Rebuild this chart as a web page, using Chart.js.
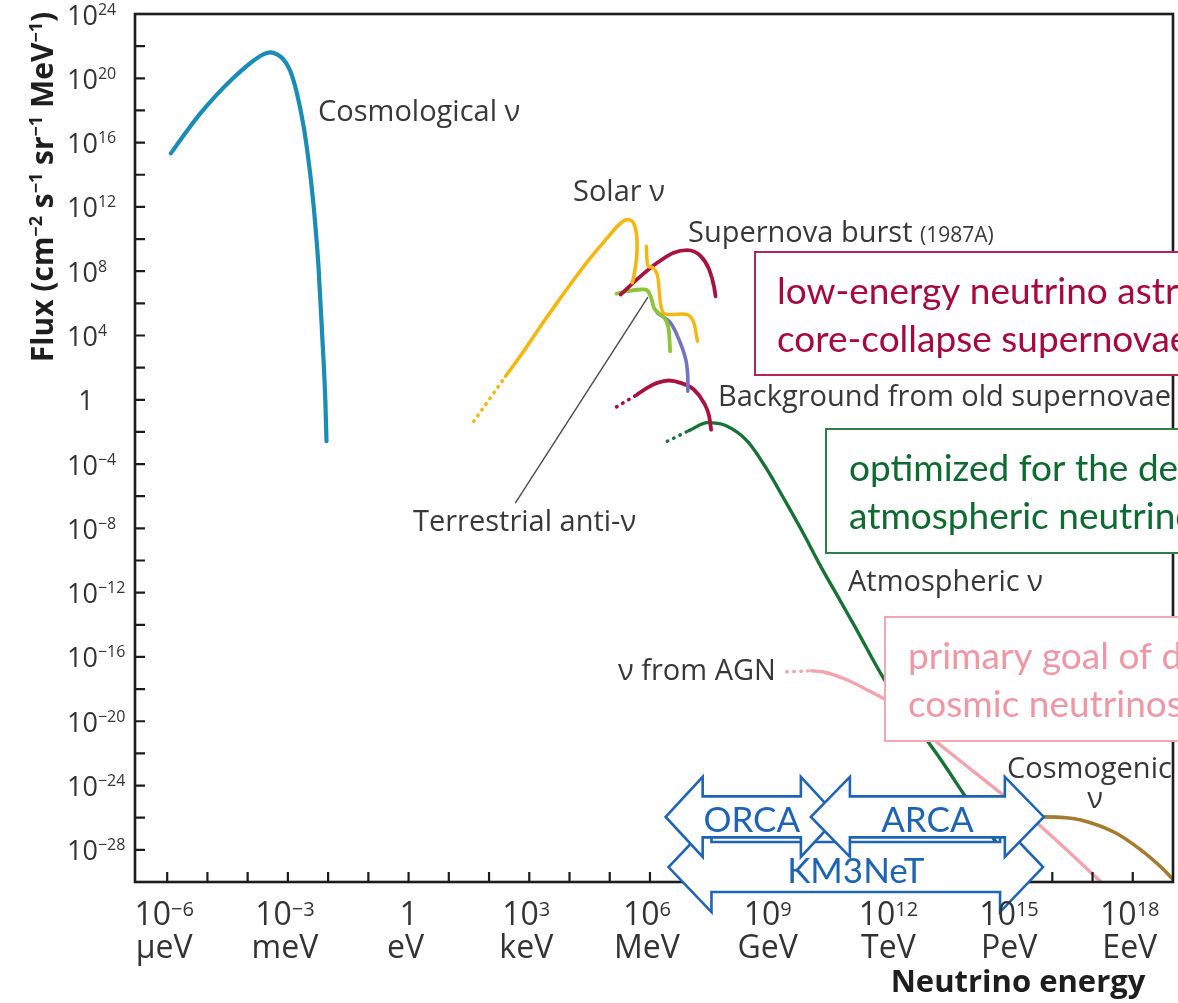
<!DOCTYPE html>
<html lang="en">
<head>
<meta charset="utf-8">
<title>Neutrino flux spectrum</title>
<script src="https://cdn.jsdelivr.net/npm/chart.js@4.4.1/dist/chart.umd.min.js"></script>
<style>
  html, body { margin: 0; padding: 0; background: #ffffff; }
  #frame { position: relative; width: 1178px; height: 1003px; }
</style>
</head>
<body>
<div id="frame"><canvas id="flux"></canvas></div>
<script>
// Axis ranges in decades: energy as log10(E / eV), flux as log10(cm^-2 s^-1 sr^-1 MeV^-1)
const energyRangeExp = [-6.8, 19];
const fluxRangeExp = [-30, 24];

// Tick marks and labels
const energyTickExps = [-6,-5,-4,-3,-2,-1,0,1,2,3,4,5,6,7,8,9,10,11,12,13,14,15,16,17,18];
const energyLabelExps = [-6, -3, 0, 3, 6, 9, 12, 15, 18];
const energyLabelUnits = ['µeV', 'meV', 'eV', 'keV', 'MeV', 'GeV', 'TeV', 'PeV', 'EeV'];
const fluxTickExps = [24,22,20,18,16,14,12,10,8,6,4,2,0,-2,-4,-6,-8,-10,-12,-14,-16,-18,-20,-22,-24,-26,-28];
const fluxLabelExps = [24, 20, 16, 12, 8, 4, 0, -4, -8, -12, -16, -20, -24, -28];

// Spectra (log10 E, log10 flux)
const cosmoLogE = [-5.91, -5.51, -5.18, -4.76, -4.35, -3.93, -3.60, -3.44, -3.27, -3.11, -2.94, -2.78, -2.61, -2.49, -2.36, -2.24, -2.15, -2.07, -2.04];
const cosmoLogF = [15.33, 16.72, 17.80, 19.00, 20.03, 20.95, 21.50, 21.61, 21.49, 21.18, 20.45, 19.11, 17.03, 14.96, 12.05, 8.31, 4.16, 0.01, -2.58];

const solarTailLogE = [1.62, 2.41];
const solarTailLogF = [-1.34, 1.46];
const solarLogE = [2.41, 2.86, 3.28, 3.69, 4.11, 4.52, 4.94, 5.23, 5.44, 5.59, 5.67, 5.67, 5.60, 5.56];
const solarLogF = [1.46, 3.02, 4.58, 6.03, 7.48, 8.83, 10.07, 10.90, 11.21, 11.01, 10.18, 8.94, 7.69, 7.28];
const solarHighLogE = [5.91, 5.95, 6.07, 6.18, 6.22, 6.26, 6.33, 6.51, 6.93, 7.09, 7.18];
const solarHighLogF = [9.56, 8.31, 8.23, 7.80, 7.07, 6.03, 5.41, 5.30, 5.30, 4.79, 3.64];

const burstLogE = [5.27, 5.77, 6.18, 6.59, 6.93, 7.26, 7.47, 7.59, 7.63];
const burstLogF = [6.55, 7.69, 8.52, 9.15, 9.31, 8.94, 8.11, 7.07, 6.44];

const terrestrialLogE = [5.17, 5.44, 5.77, 5.93, 6.03, 6.10, 6.22, 6.36, 6.45, 6.48, 6.50];
const terrestrialLogF = [6.61, 6.76, 6.86, 6.82, 6.34, 5.72, 5.37, 5.10, 4.58, 3.96, 3.02];

const reactorLogE = [6.18, 6.51, 6.72, 6.89, 6.94, 6.94];
const reactorLogF = [5.41, 4.79, 3.75, 2.50, 1.46, 0.53];

const relicTailLogE = [5.17, 5.68];
const relicTailLogF = [-0.44, 0.32];
const relicLogE = [5.68, 5.93, 6.18, 6.47, 6.76, 7.09, 7.34, 7.47, 7.52];
const relicLogF = [0.32, 0.74, 1.05, 1.20, 1.05, 0.64, -0.19, -1.02, -1.86];

const atmoTailLogE = [6.43, 6.97];
const atmoTailLogF = [-2.58, -1.92];
const atmoLogE = [6.97, 7.43, 7.88, 8.43, 8.90, 9.35, 9.82, 10.24, 10.74, 11.09, 11.86, 13.23, 13.78, 14.72, 15.17];
const atmoLogF = [-1.92, -1.42, -1.60, -2.60, -4.30, -6.25, -8.35, -10.35, -12.55, -14.10, -17.55, -22.40, -24.46, -28.0, -30.0];

const agnTailLogE = [9.40, 10.02];
const agnTailLogF = [-16.92, -16.86];
const agnLogE = [10.02, 10.34, 10.92, 11.49, 11.86, 13.15, 15.59, 17.16, 17.21];
const agnLogF = [-16.86, -16.95, -17.45, -18.17, -18.67, -21.34, -26.27, -29.88, -30.0];

const cosmogenicLogE = [14.47, 15.22, 15.79, 16.34, 16.71, 17.53, 18.20, 18.70, 19.02];
const cosmogenicLogF = [-26.76, -26.14, -25.95, -26.0, -26.14, -26.89, -28.0, -29.07, -29.88];

// Leader line from the terrestrial anti-neutrino label
const leaderLogE = [5.94, 2.66];
const leaderLogF = [6.36, -6.40];

// Detector energy ranges (log10 E) and the flux level the arrows sit at
const orcaLogE = [6.39, 10.67];
const arcaLogE = [10.0, 15.79];
const km3netLogE = [6.46, 15.77];
const orcaArcaLogF = -25.95;
const km3netLogF = -29.07;

const toPoints = (le, lf) => le.map((e, i) => ({ x: Math.pow(10, e), y: Math.pow(10, lf[i]) }));

const C = {
  cosmo: '#1b8db4', solar: '#f6b611', crimson: '#a8123f', lime: '#8cc43c',
  violet: '#7274c2', atmo: '#177236', pink: '#f2a3ae', brown: '#a57a31', leader: '#4a4a4a'
};

// curve: 'monotone' for spectra that run left to right, 'spline' for folded ones
function line(le, lf, color, width, style) {
  const ds = {
    data: toPoints(le, lf), showLine: true, borderColor: color, backgroundColor: color,
    borderWidth: width, pointRadius: 0, fill: false,
    borderCapStyle: 'round', borderJoinStyle: 'round', borderDash: []
  };
  if (style === 'dotted') { ds.tension = 0; ds.borderDash = [0.5, 6.5]; }
  else if (style === 'monotone') { ds.cubicInterpolationMode = 'monotone'; }
  else if (style === 'straight') { ds.tension = 0; }
  else { ds.tension = 0.3; }
  return ds;
}

const datasets = [
  line(leaderLogE, leaderLogF, C.leader, 1.4, 'straight'),
  line(cosmoLogE, cosmoLogF, C.cosmo, 4.2, 'monotone'),
  line(solarTailLogE, solarTailLogF, C.solar, 3.6, 'dotted'),
  line(solarLogE, solarLogF, C.solar, 3.6, 'spline'),
  line(solarHighLogE, solarHighLogF, C.solar, 3.4, 'spline'),
  line(burstLogE, burstLogF, C.crimson, 3.8, 'monotone'),
  line(terrestrialLogE, terrestrialLogF, C.lime, 3.8, 'spline'),
  line(reactorLogE, reactorLogF, C.violet, 3.6, 'spline'),
  line(relicTailLogE, relicTailLogF, C.crimson, 3.6, 'dotted'),
  line(relicLogE, relicLogF, C.crimson, 3.8, 'monotone'),
  line(atmoTailLogE, atmoTailLogF, C.atmo, 3.4, 'dotted'),
  line(atmoLogE, atmoLogF, C.atmo, 3.4, 'monotone'),
  line(agnTailLogE, agnTailLogF, C.pink, 3.4, 'dotted'),
  line(agnLogE, agnLogF, C.pink, 3.4, 'monotone'),
  line(cosmogenicLogE, cosmogenicLogF, C.brown, 3.6, 'monotone')
];

const LABEL_FONT = '"Open Sans", "Noto Sans", sans-serif';
const BOX_FONT = 'Lato, "Open Sans", sans-serif';

function drawRich(ctx, parts, x, y, opt) {
  const widths = parts.map(p => { ctx.font = p.sup ? opt.supFont : opt.font; return ctx.measureText(p.t).width; });
  const total = widths.reduce((s, w) => s + w, 0);
  let cx = opt.align === 'center' ? x - total / 2 : (opt.align === 'right' ? x - total : x);
  ctx.textAlign = 'left';
  ctx.textBaseline = 'alphabetic';
  parts.forEach((p, i) => {
    ctx.font = p.sup ? opt.supFont : opt.font;
    ctx.fillText(p.t, cx, p.sup ? y - opt.rise : y);
    cx += widths[i];
  });
  return total;
}

const powParts = exp => exp === 0 ? [{ t: '1' }] : [{ t: '10' }, { t: (exp < 0 ? '\u2212' : '') + Math.abs(exp), sup: true }];

function arrowPath(ctx, x1, x2, yc, head, headHalf, shaftHalf) {
  ctx.beginPath();
  ctx.moveTo(x1, yc);
  ctx.lineTo(x1 + head, yc - headHalf);
  ctx.lineTo(x1 + head, yc - shaftHalf);
  ctx.lineTo(x2 - head, yc - shaftHalf);
  ctx.lineTo(x2 - head, yc - headHalf);
  ctx.lineTo(x2, yc);
  ctx.lineTo(x2 - head, yc + headHalf);
  ctx.lineTo(x2 - head, yc + shaftHalf);
  ctx.lineTo(x1 + head, yc + shaftHalf);
  ctx.lineTo(x1 + head, yc + headHalf);
  ctx.closePath();
}

const decor = {
  id: 'decor',
  afterDatasetsDraw(chart) {
    const { ctx, chartArea: a, scales } = chart;
    const px = e => scales.x.getPixelForValue(Math.pow(10, e));
    const py = f => scales.y.getPixelForValue(Math.pow(10, f));
    ctx.save();

    // frame
    ctx.strokeStyle = '#1c1c1c';
    ctx.lineWidth = 2.6;
    ctx.strokeRect(a.left, a.top, a.right - a.left, a.bottom - a.top);

    // inward tick marks
    ctx.lineWidth = 2.2;
    ctx.beginPath();
    fluxTickExps.forEach(f => { const yy = py(f); ctx.moveTo(a.left, yy); ctx.lineTo(a.left + 10, yy); });
    energyTickExps.forEach(e => { const xx = px(e); ctx.moveTo(xx, a.bottom); ctx.lineTo(xx, a.bottom - 10); });
    ctx.stroke();

    // flux tick labels
    ctx.fillStyle = '#333333';
    fluxLabelExps.forEach(f => {
      const yy = py(f) + 10.5;
      if (f === 0) drawRich(ctx, powParts(0), 86, yy, { font: '27px ' + LABEL_FONT, align: 'center' });
      else drawRich(ctx, powParts(f), 67, yy, { font: '27px ' + LABEL_FONT, supFont: '16px ' + LABEL_FONT, rise: 10, align: 'left' });
    });

    // curve labels
    ctx.fillStyle = '#383838';
    ctx.textAlign = 'left';
    ctx.textBaseline = 'middle';
    ctx.font = '29px ' + LABEL_FONT;
    ctx.fillText('Cosmological \u03bd', 318, 113);
    ctx.fillText('Solar \u03bd', 573, 193);
    ctx.fillText('Supernova burst', 688, 234);
    const sbw = ctx.measureText('Supernova burst ').width;
    ctx.font = '21px ' + LABEL_FONT;
    ctx.fillText('(1987A)', 688 + sbw, 236);
    ctx.font = '29px ' + LABEL_FONT;
    ctx.fillText('Background from old supernovae', 718, 398);
    ctx.fillText('Terrestrial anti-\u03bd', 413, 523);
    ctx.fillText('Atmospheric \u03bd', 848, 583);
    ctx.fillText('\u03bd from AGN', 618, 672);
    ctx.fillText('Cosmogenic', 1007, 770);
    ctx.textAlign = 'center';
    ctx.fillText('\u03bd', 1095, 800);

    // highlight boxes (white filled, running off the right edge)
    const boxes = [
      { left: 755, top: 252, bottom: 375, textX: 777, edge: '#b3264f', text: '#a6093d', lines: ['low-energy neutrino astronomy:', 'core-collapse supernovae'] },
      { left: 826, top: 429, bottom: 553, textX: 849, edge: '#2e7f47', text: '#0f6a31', lines: ['optimized for the detection of', 'atmospheric neutrinos'] },
      { left: 885, top: 617, bottom: 741, textX: 908, edge: '#f2a7b1', text: '#ee98a6', lines: ['primary goal of detecting', 'cosmic neutrinos'] }
    ];
    boxes.forEach(b => {
      ctx.fillStyle = '#ffffff';
      ctx.fillRect(b.left, b.top, 1300 - b.left, b.bottom - b.top);
      ctx.strokeStyle = b.edge;
      ctx.lineWidth = 2;
      ctx.strokeRect(b.left, b.top, 1300 - b.left, b.bottom - b.top);
      ctx.fillStyle = b.text;
      ctx.font = '37px ' + BOX_FONT;
      ctx.textAlign = 'left';
      ctx.textBaseline = 'alphabetic';
      ctx.fillText(b.lines[0], b.textX, b.top + 52);
      ctx.fillText(b.lines[1], b.textX, b.top + 100);
    });

    // detector range arrows
    const blue = '#1f64b4';
    const arrows = [
      { le: km3netLogE, lf: km3netLogF, head: 43, headHalf: 45, shaftHalf: 25, label: 'KM3NeT' },
      { le: orcaLogE, lf: orcaArcaLogF, head: 37, headHalf: 40, shaftHalf: 20.5, label: 'ORCA' },
      { le: arcaLogE, lf: orcaArcaLogF, head: 39, headHalf: 40, shaftHalf: 20.5, label: 'ARCA' }
    ];
    arrows.forEach(ar => {
      const x1 = px(ar.le[0]), x2 = px(ar.le[1]), yc = py(ar.lf);
      arrowPath(ctx, x1, x2, yc, ar.head, ar.headHalf, ar.shaftHalf);
      ctx.fillStyle = '#ffffff';
      ctx.fill();
      ctx.strokeStyle = blue;
      ctx.lineWidth = 2.6;
      ctx.lineJoin = 'miter';
      ctx.stroke();
      ctx.fillStyle = blue;
      ctx.font = '35px ' + BOX_FONT;
      ctx.textAlign = 'center';
      ctx.textBaseline = 'alphabetic';
      ctx.fillText(ar.label, (x1 + x2) / 2, yc + 15.5);
    });

    // energy tick labels
    ctx.fillStyle = '#333333';
    energyLabelExps.forEach((e, i) => {
      const xx = px(e) - 3;
      if (e === 0) drawRich(ctx, powParts(0), xx + 3, 925, { font: '32px ' + LABEL_FONT, align: 'center' });
      else drawRich(ctx, powParts(e), xx, 925, { font: '32px ' + LABEL_FONT, supFont: '20px ' + LABEL_FONT, rise: 9, align: 'center' });
      ctx.font = '32px ' + LABEL_FONT;
      ctx.textAlign = 'center';
      ctx.fillText(energyLabelUnits[i], xx, 958);
    });

    // axis titles
    ctx.fillStyle = '#1e1e1e';
    ctx.font = 'bold 31px ' + LABEL_FONT;
    ctx.textAlign = 'center';
    ctx.textBaseline = 'alphabetic';
    ctx.fillText('Neutrino energy', 1018, 992);

    ctx.save();
    ctx.translate(53, 187);
    ctx.rotate(-Math.PI / 2);
    drawRich(ctx, [
      { t: 'Flux (cm' }, { t: '\u22122', sup: true }, { t: ' s' }, { t: '\u22121', sup: true },
      { t: ' sr' }, { t: '\u22121', sup: true }, { t: ' MeV' }, { t: '\u22121', sup: true }, { t: ')' }
    ], 0, 0, { font: 'bold 30px ' + LABEL_FONT, supFont: 'bold 18px ' + LABEL_FONT, rise: 11, align: 'center' });
    ctx.restore();

    ctx.restore();
  }
};

new Chart(document.getElementById('flux'), {
  type: 'scatter',
  data: { datasets },
  options: {
    responsive: true,
    maintainAspectRatio: false,
    animation: false,
    events: [],
    layout: { padding: { left: 135, top: 14, right: 5, bottom: 121 } },
    plugins: { legend: { display: false }, tooltip: { enabled: false } },
    scales: {
      x: { type: 'logarithmic', min: Math.pow(10, energyRangeExp[0]), max: Math.pow(10, energyRangeExp[1]), display: false },
      y: { type: 'logarithmic', min: Math.pow(10, fluxRangeExp[0]), max: Math.pow(10, fluxRangeExp[1]), display: false }
    }
  },
  plugins: [decor]
});
</script>
</body>
</html>
